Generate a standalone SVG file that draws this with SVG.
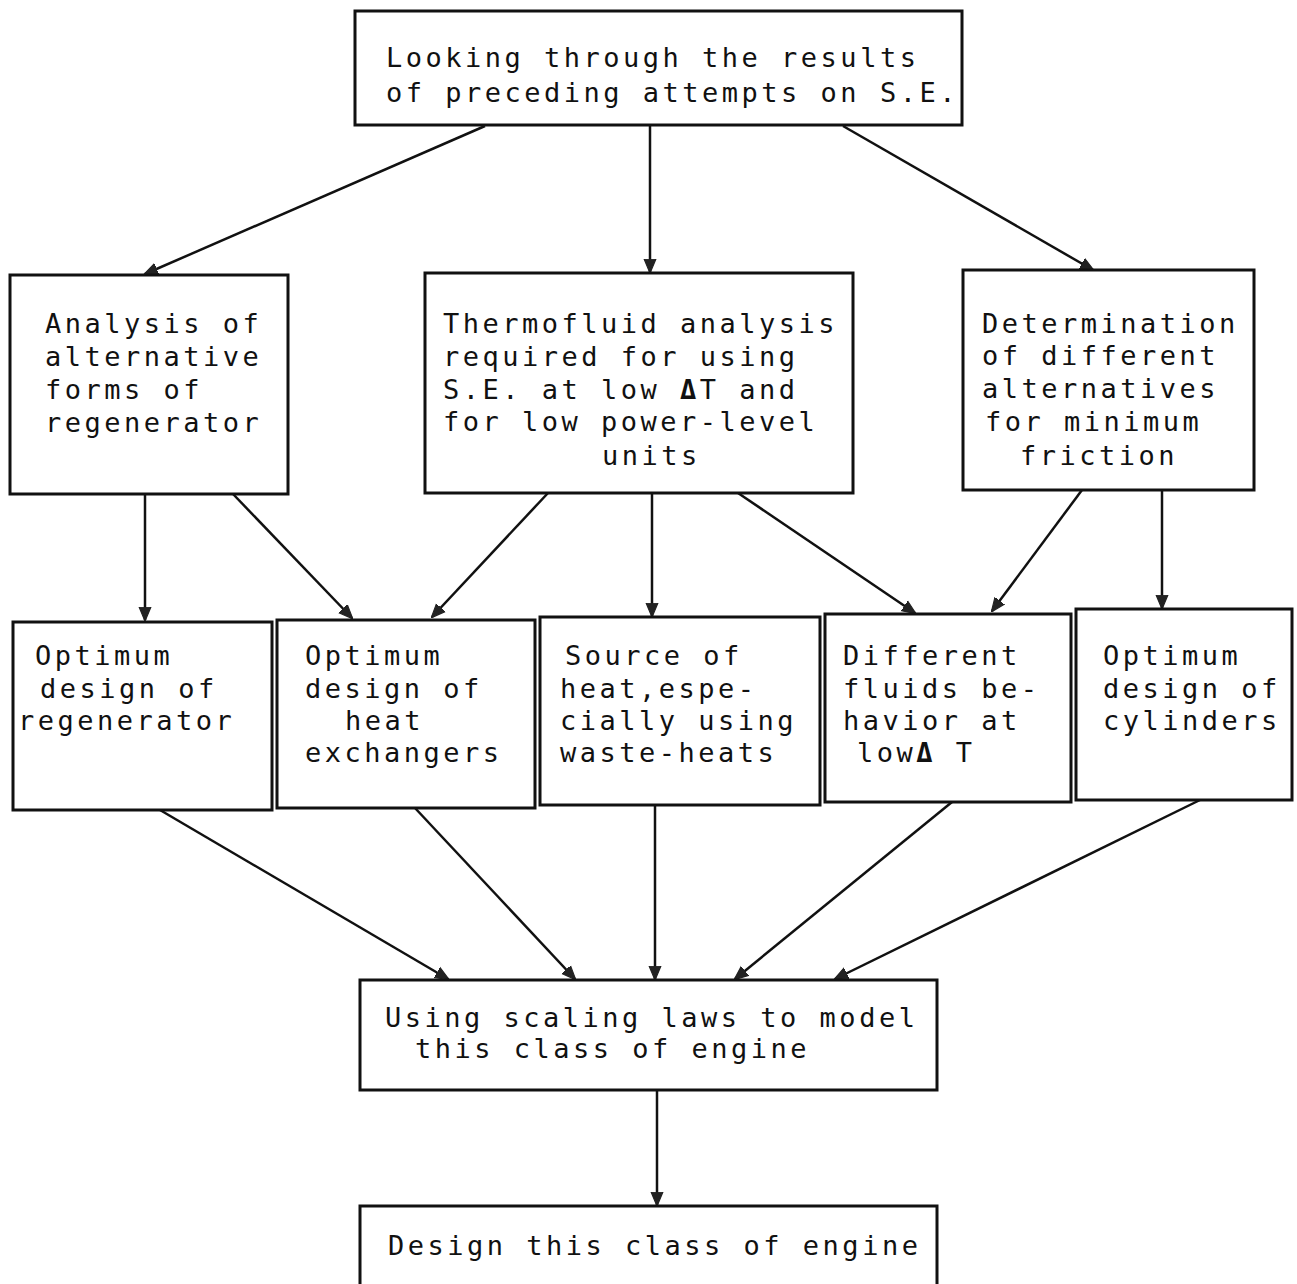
<svg xmlns="http://www.w3.org/2000/svg" width="1297" height="1284" viewBox="0 0 1297 1284">
<defs>
<marker id="ah" viewBox="0 0 12 12" refX="11" refY="6" markerWidth="14" markerHeight="14" markerUnits="userSpaceOnUse" orient="auto">
<path d="M0,1 L12,6 L0,11 Z" fill="#222" stroke="#222" stroke-width="1"/>
</marker>
</defs>
<style>
.box{fill:#fff;stroke:#111;stroke-width:3}
.t{font-family:"DejaVu Sans Mono","Liberation Mono",monospace;font-size:27px;letter-spacing:3.5px;fill:#111}
.d{font-weight:bold}
.c{fill:none;stroke:#111;stroke-width:2.5;marker-end:url(#ah)}
</style>
<rect width="1297" height="1284" fill="#fff"/>
<g id="connectors">
<line class="c" x1="485" y1="126" x2="145" y2="274"/>
<line class="c" x1="650" y1="126" x2="650" y2="272"/>
<line class="c" x1="843" y1="126" x2="1093" y2="270"/>
<line class="c" x1="145" y1="494" x2="145" y2="620"/>
<line class="c" x1="233" y1="494" x2="352" y2="618"/>
<line class="c" x1="548" y1="493" x2="432" y2="617"/>
<line class="c" x1="652" y1="493" x2="652" y2="616"/>
<line class="c" x1="738" y1="493" x2="915" y2="613"/>
<line class="c" x1="1082" y1="490" x2="992" y2="611"/>
<line class="c" x1="1162" y1="490" x2="1162" y2="608"/>
<line class="c" x1="160" y1="810" x2="448" y2="979"/>
<line class="c" x1="415" y1="808" x2="575" y2="979"/>
<line class="c" x1="655" y1="805" x2="655" y2="979"/>
<line class="c" x1="952" y1="802" x2="735" y2="979"/>
<line class="c" x1="1200" y1="800" x2="835" y2="979"/>
<line class="c" x1="657" y1="1090" x2="657" y2="1205"/>
</g>
<g id="n-top">
<rect class="box" x="355" y="11" width="607" height="114"/>
<text class="t" x="386" y="67">Looking through the results</text>
<text class="t" x="386" y="102">of preceding attempts on S.E.</text>
</g>
<g id="n-analysis">
<rect class="box" x="10" y="275" width="278" height="219"/>
<text class="t" x="45" y="333">Analysis of</text>
<text class="t" x="45" y="366">alternative</text>
<text class="t" x="45" y="399">forms of</text>
<text class="t" x="45" y="432">regenerator</text>
</g>
<g id="n-thermo">
<rect class="box" x="425" y="273" width="428" height="220"/>
<text class="t" x="443" y="333">Thermofluid analysis</text>
<text class="t" x="443" y="366">required for using</text>
<text class="t" x="443" y="399">S.E. at low <tspan class="d">Δ</tspan>T and</text>
<text class="t" x="443" y="431">for low power-level</text>
<text class="t" x="602" y="465">units</text>
</g>
<g id="n-determ">
<rect class="box" x="963" y="270" width="291" height="220"/>
<text class="t" x="982" y="333">Determination</text>
<text class="t" x="982" y="365">of different</text>
<text class="t" x="982" y="398">alternatives</text>
<text class="t" x="985" y="431">for minimum</text>
<text class="t" x="1020" y="465">friction</text>
</g>
<g id="n-regen">
<rect class="box" x="13" y="622" width="259" height="188"/>
<text class="t" x="35" y="665">Optimum</text>
<text class="t" x="40" y="698">design of</text>
<text class="t" x="18" y="730">regenerator</text>
</g>
<g id="n-hx">
<rect class="box" x="277" y="620" width="258" height="188"/>
<text class="t" x="305" y="665">Optimum</text>
<text class="t" x="305" y="698">design of</text>
<text class="t" x="345" y="730">heat</text>
<text class="t" x="305" y="762">exchangers</text>
</g>
<g id="n-source">
<rect class="box" x="540" y="617" width="280" height="188"/>
<text class="t" x="565" y="665">Source of</text>
<text class="t" x="560" y="698">heat,espe-</text>
<text class="t" x="560" y="730">cially using</text>
<text class="t" x="560" y="762">waste-heats</text>
</g>
<g id="n-fluids">
<rect class="box" x="825" y="614" width="246" height="188"/>
<text class="t" x="843" y="665">Different</text>
<text class="t" x="843" y="698">fluids be-</text>
<text class="t" x="843" y="730">havior at</text>
<text class="t" x="857" y="762">low<tspan class="d">Δ</tspan> T</text>
</g>
<g id="n-cyl">
<rect class="box" x="1076" y="609" width="216" height="191"/>
<text class="t" x="1103" y="665">Optimum</text>
<text class="t" x="1103" y="698">design of</text>
<text class="t" x="1103" y="730">cylinders</text>
</g>
<g id="n-scaling">
<rect class="box" x="360" y="980" width="577" height="110"/>
<text class="t" x="385" y="1027">Using scaling laws to model</text>
<text class="t" x="415" y="1058">this class of engine</text>
</g>
<g id="n-design">
<rect class="box" x="360" y="1206" width="577" height="90"/>
<text class="t" x="388" y="1255">Design this class of engine</text>
</g>
</svg>
